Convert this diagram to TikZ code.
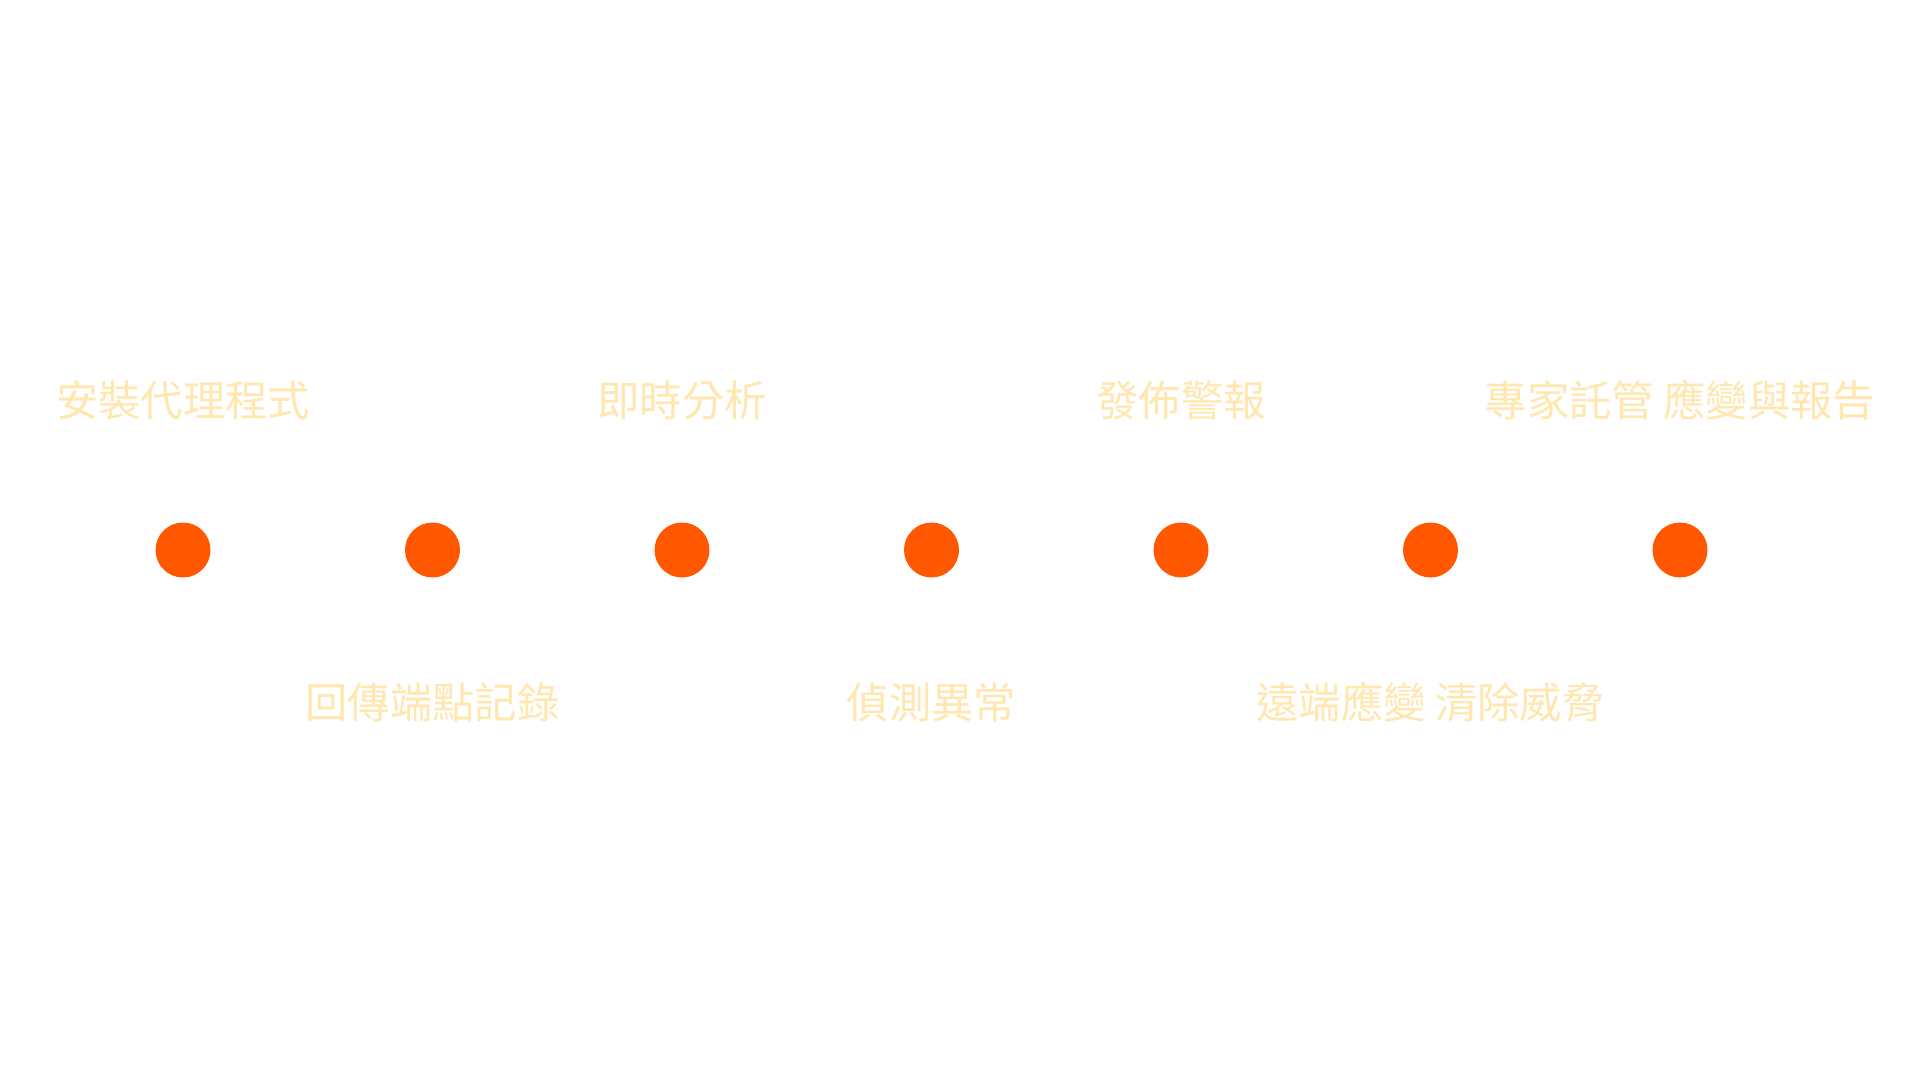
\documentclass[tikz,border=0pt]{standalone}
\usepackage{fontspec}
\setmainfont{Noto Sans CJK TC}
\definecolor{dotc}{HTML}{FF5800}
\definecolor{labc}{HTML}{FFE7AF}
\begin{document}
\begin{tikzpicture}[x=1pt,y=-1pt,
  dotnode/.style={circle,fill=dotc,minimum size=55pt,inner sep=0pt},
  lab/.style={text=labc,anchor=base,inner sep=0pt,font=\fontsize{42.3}{50}\selectfont}]
\useasboundingbox[fill=white] (0,0) rectangle (1920,1080);
\foreach \i/\x in {1/183,2/432.5,3/682,4/931.5,5/1181,6/1430.5,7/1680}{
  \node[dotnode] (d\i) at (\x,550) {};
}
\node[lab] (t1) at (183,416) {安裝代理程式};
\node[lab] (t3) at (682,416) {即時分析};
\node[lab] (t5) at (1181,416) {發佈警報};
\node[lab] (t7) at (1680,416) {專家託管 應變與報告};
\node[lab] (b2) at (432.5,718) {回傳端點記錄};
\node[lab] (b4) at (931.5,718) {偵測異常};
\node[lab] (b6) at (1430.5,718) {遠端應變 清除威脅};
\end{tikzpicture}
\end{document}
